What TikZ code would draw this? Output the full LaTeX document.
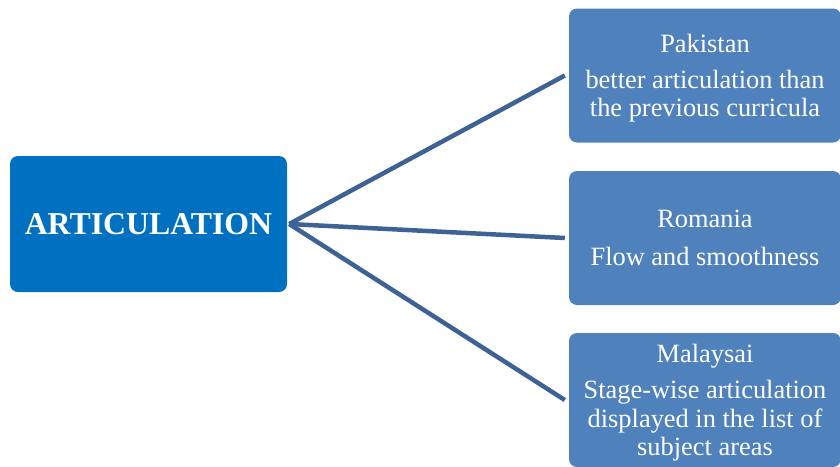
\documentclass[tikz,border=0pt]{standalone}
\usepackage{fontspec}
\setmainfont{Liberation Serif}
\definecolor{hubblue}{RGB}{0,112,192}
\definecolor{leafblue}{RGB}{79,129,189}
\definecolor{linkblue}{RGB}{62,98,150}
\begin{document}
\begin{tikzpicture}[x=1pt,y=-1pt,
  hub/.style={fill=hubblue, rounded corners=8pt, minimum width=277pt, minimum height=136pt,
    text=white, font=\fontsize{31.8}{34}\selectfont\bfseries, inner sep=0pt},
  leaf/.style={fill=leafblue, rounded corners=8pt, minimum width=272pt, minimum height=134pt,
    text=white, font=\fontsize{26.4}{28.6}\selectfont, align=center, inner sep=0pt},
  link/.style={draw=linkblue, line width=4.5pt}]
  \clip (0,0) rectangle (840,466);
  \fill[white] (0,0) rectangle (840,466);

  \node[hub] (hub) at (148.5,224) {ARTICULATION};

  \node[leaf] (pk) at (705,75.5) {};
  \node[leaf] (ro) at (705,238) {};
  \node[leaf] (my) at (705,400) {};
  \node[leaf, fill=none, minimum size=0pt] (pktxt) at ([yshift=-3pt]pk.center)
    {Pakistan\\[7pt]better articulation than\\the previous curricula};
  \node[leaf, fill=none, minimum size=0pt] (rotxt) at (ro.center)
    {Romania\\[9.5pt]Flow and smoothness};
  \node[leaf, fill=none, minimum size=0pt] (mytxt) at ([yshift=-3pt]my.center)
    {Malaysai\\[7pt]Stage-wise articulation\\displayed in the list of\\subject areas};

  \coordinate (apex) at ([xshift=2pt]hub.east);
  \draw[link] (apex) -- ([xshift=-4pt]pk.west);
  \draw[link] (apex) -- ([xshift=-4pt]ro.west);
  \draw[link] (apex) -- ([xshift=-4pt]my.west);
\end{tikzpicture}
\end{document}
